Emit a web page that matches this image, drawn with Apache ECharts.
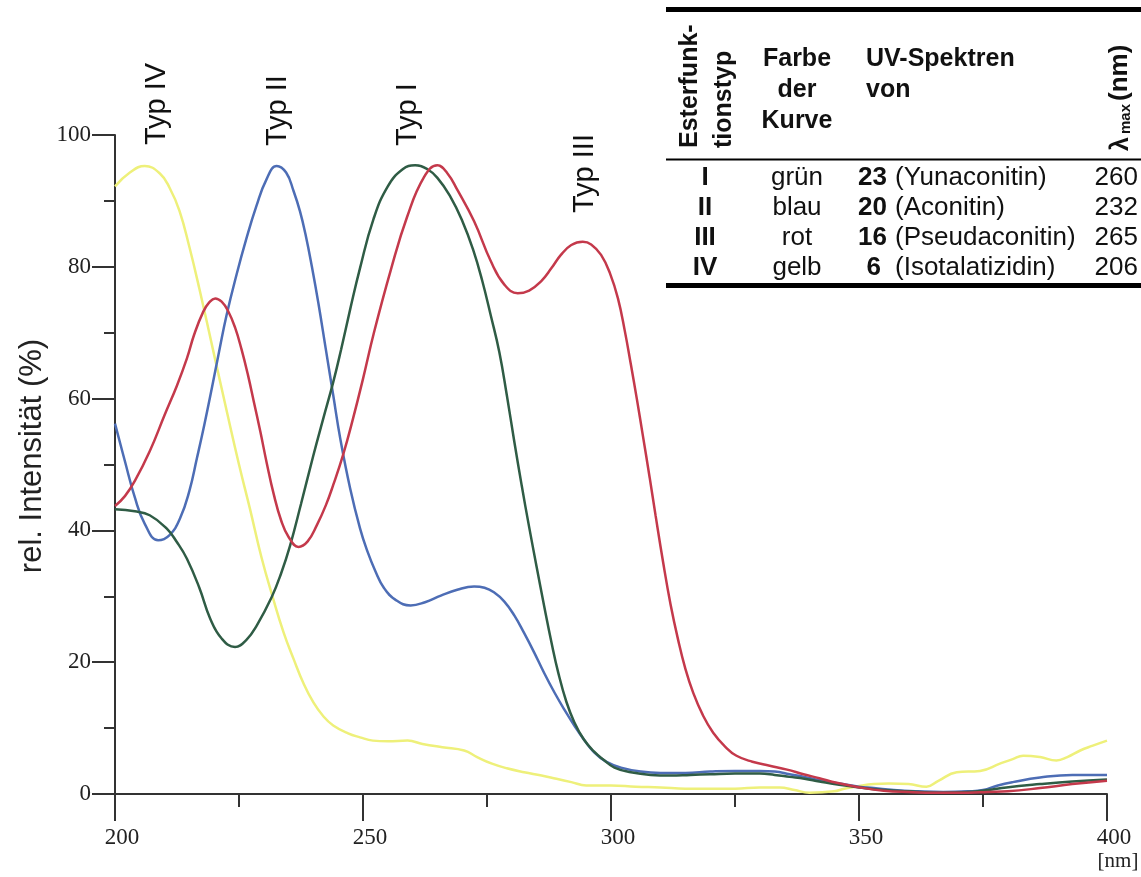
<!DOCTYPE html>
<html>
<head>
<meta charset="utf-8">
<title>UV-Spektren</title>
<script src="https://cdn.jsdelivr.net/npm/echarts@6/dist/echarts.min.js"></script>
<style>
  html, body { margin: 0; padding: 0; background: #fff; }
  #chart { width: 1141px; height: 877px; }
</style>
</head>
<body>
<div id="chart"></div>
<script>
// spectra: [wavelength nm, rel. intensity %]
var typI = [[200,43.2],[204,42.9],[207,42.3],[210.4,40.3],[212.5,38.2],[214.5,35.7],[217,31.3],[219.2,26.6],[221.5,23.6],[224.2,22.3],[226.5,23.4],[228.6,25.6],[231.6,29.9],[233.5,33.5],[235.3,37.7],[237.5,44],[240,51.4],[242,57],[244,62.5],[245.6,67.5],[247.4,73.5],[249.4,79.8],[252.1,87.2],[255,92.2],[258,94.8],[260.5,95.4],[263,94.8],[265,93.5],[267.5,90.8],[270,87],[272.2,82.6],[274,78],[275.8,72.5],[277.5,67],[279,60.5],[280.5,53.5],[282,46.8],[283.5,40.5],[285,34.5],[286.5,28.6],[288,23],[289.4,18.3],[291,14],[292.6,10.9],[294.5,8.3],[296.5,6.5],[298.5,5.2],[300.7,4.0],[304,3.3],[308,2.9],[312,2.8],[316,2.9],[320,3.0],[325,3.1],[330,3.1],[333,2.9],[336,2.6],[339,2.3],[342,1.9],[346,1.4],[350,1.0],[355,0.6],[360,0.4],[366,0.2],[372,0.3],[376,0.6],[379.7,1.0],[386.5,1.5],[393,1.9],[400,2.2]];
var typII = [[200,56.2],[202,50.5],[204,45],[206,41],[208.7,38.5],[211,39.3],[213.1,41.8],[215,46],[216.5,50.9],[218,56],[219.5,61.5],[221,67.2],[222.5,72.7],[224.5,78.8],[226.5,84.3],[228.5,89.2],[230.5,93.2],[232.6,95.3],[234.5,94.3],[236,91.5],[237.3,88.4],[238.5,84.6],[239.7,80],[241,74.5],[242.5,67.5],[244,60.5],[245.4,54],[247.4,46.4],[249.4,40.3],[250.8,37],[252.5,33.8],[254.2,31.3],[256.5,29.5],[259.6,28.6],[262.5,29.1],[265.7,30.1],[269,31],[272.4,31.5],[274.5,31.3],[276.4,30.6],[278.5,29.2],[280.5,27.1],[282.5,24.4],[284.5,21.5],[286.5,18.4],[288.6,15.4],[290.6,12.8],[292.6,10.4],[294.6,8.2],[296.6,6.3],[299,4.9],[302,4.0],[306,3.4],[310,3.2],[315,3.2],[320,3.4],[325,3.5],[330,3.5],[333,3.4],[336,3.0],[339,2.6],[342,2.1],[346,1.6],[350,1.1],[353,0.9],[357,0.6],[362,0.4],[367,0.3],[372,0.4],[375,0.6],[378,1.3],[381,1.8],[386.5,2.5],[393,2.9],[400,2.9]];
var typIII = [[200,43.7],[202,45.2],[204,47.5],[207,52],[210,57.5],[212.5,62],[214.5,66.1],[216,69.8],[217.8,73.2],[219,74.6],[220.2,75.2],[221.5,74.7],[222.8,73.3],[224.2,70.8],[225.5,67.5],[226.8,63.6],[228,59.5],[229.3,55],[230.6,50.2],[232,45.5],[233.5,41.5],[235,39],[237,37.5],[238.8,38.3],[240.7,40.8],[242.5,43.8],[244,46.9],[246,51.5],[248,57],[250,63],[252.2,70],[255.6,79.5],[258.9,87.6],[262.3,93.6],[265,95.4],[267,94.2],[269,91.7],[272.4,86.9],[275.8,80.8],[278.5,77.3],[281.2,76],[283.5,76.4],[285.9,77.8],[288,79.8],[289.9,81.8],[292,83.3],[294.3,83.8],[296,83.4],[298,81.8],[299.8,79],[301.4,75.2],[302.8,70.2],[304,65.2],[305.2,60],[306.4,54.5],[307.8,48],[309,42.2],[310.5,35.2],[312,28.8],[313.5,23.5],[315,19],[316.6,15.3],[318.5,12],[320.6,9.3],[323,7.2],[325.3,5.8],[328.5,4.9],[332,4.3],[335.5,3.7],[338.8,3.0],[342,2.4],[345.5,1.7],[350.2,1.0],[355,0.5],[360,0.3],[366,0.2],[372,0.2],[376,0.3],[380,0.4],[386.5,0.9],[393,1.5],[400,2.0]];
var typIV = [[200,92.2],[203,94.3],[206,95.3],[209,94.2],[211,92],[213,88.5],[215,83],[217,76.7],[220,66.6],[222.5,58.2],[225,50],[227.2,43.3],[229.5,36],[231.9,29.6],[234,24.5],[236,20.5],[238,16.8],[240,13.9],[242,11.8],[244,10.4],[247,9.2],[249.4,8.6],[252,8.1],[255,8.0],[259,8.1],[262,7.6],[266,7.1],[270.4,6.6],[273,5.6],[276,4.6],[279,3.9],[282.5,3.3],[286,2.8],[289,2.3],[292,1.8],[295,1.3],[300,1.3],[305,1.1],[310,1.0],[315,0.8],[320,0.8],[325,0.8],[330,1.0],[334,1.0],[337,0.6],[340,0.2],[345,0.4],[347,0.8],[350,1.2],[353,1.5],[356,1.6],[360,1.5],[363.6,1.1],[366,2.0],[369.7,3.3],[374.4,3.5],[378.4,4.6],[381,5.3],[383.1,5.8],[386.5,5.6],[389.8,5.1],[392,5.6],[394.6,6.6],[397,7.3],[400,8.1]];

// peak labels above the curves
var typNames = ['Typ IV', 'Typ II', 'Typ I', 'Typ III'];

// table
var tabTyp = ['I', 'II', 'III', 'IV'];
var tabFarbe = ['grün', 'blau', 'rot', 'gelb'];
var tabNr = ['23', '20', '16', '6'];
var tabName = ['(Yunaconitin)', '(Aconitin)', '(Pseudaconitin)', '(Isotalatizidin)'];
var tabLmax = ['260', '232', '265', '206'];

var sans = '"Liberation Sans", Arial, sans-serif';
var serif = '"Liberation Serif", "Times New Roman", serif';

function txt(s, x, y, opt) {
  opt = opt || {};
  return {
    type: 'text', x: x, y: y, rotation: opt.rot || 0, silent: true,
    style: {
      text: s, fill: opt.color || '#111',
      fontFamily: opt.family || sans, fontSize: opt.size || 26,
      fontWeight: opt.weight || 'normal',
      align: opt.align || 'left', textAlign: opt.align || 'left',
      verticalAlign: opt.valign || 'middle', textVerticalAlign: opt.valign || 'middle'
    }
  };
}
function hline(y, w) {
  return { type: 'line', silent: true, shape: { x1: 666, y1: y, x2: 1141, y2: y }, style: { stroke: '#000', lineWidth: w } };
}

var up = Math.PI / 2;
var graphics = [];
// y axis title
graphics.push(txt('rel. Intensität (%)', 32, 456, { size: 31, align: 'center', rot: up, color: '#222' }));
graphics.push(txt('[nm]', 1118, 861, { family: serif, size: 21, align: 'center', color: '#222' }));
// Typ labels
var typX = [157, 278, 408, 585], typY = [145, 146, 146, 213];
typNames.forEach(function (n, i) {
  graphics.push(txt(n, typX[i], typY[i], { size: 29, rot: up }));
});
// table lines
graphics.push(hline(9.5, 5), hline(159.5, 2), hline(285.5, 5));
// header
graphics.push(txt('Esterfunk-', 690, 148, { weight: 'bold', size: 25, rot: up }));
graphics.push(txt('tionstyp', 724, 148, { weight: 'bold', size: 25, rot: up }));
['Farbe', 'der', 'Kurve'].forEach(function (s, i) {
  graphics.push(txt(s, 797, 59 + i * 31, { weight: 'bold', size: 25, align: 'center' }));
});
['UV-Spektren', 'von'].forEach(function (s, i) {
  graphics.push(txt(s, 866, 59 + i * 31, { weight: 'bold', size: 25 }));
});
graphics.push(txt('λ', 1121, 151, { weight: 'bold', size: 25, rot: up }));
graphics.push(txt('max', 1126, 134, { weight: 'bold', size: 15, rot: up }));
graphics.push(txt('(nm)', 1120, 101, { weight: 'bold', size: 26, rot: up }));
// rows
tabTyp.forEach(function (t, i) {
  var y = 178 + i * 30;
  graphics.push(txt(t, 705, y, { weight: 'bold', size: 26, align: 'center' }));
  graphics.push(txt(tabFarbe[i], 797, y, { size: 26, align: 'center' }));
  graphics.push(txt(tabNr[i], tabNr[i].length > 1 ? 887 : 881, y, { weight: 'bold', size: 26, align: 'right' }));
  graphics.push(txt(tabName[i], 895, y, { size: 26 }));
  graphics.push(txt(tabLmax[i], 1138, y, { size: 26, align: 'right' }));
});

var axisColor = '#333';
var lineSmooth = 0.45;
var chart = echarts.init(document.getElementById('chart'));
chart.setOption({
  animation: false,
  backgroundColor: '#fff',
  grid: { left: 115, right: 34, top: 135, bottom: 83 },
  xAxis: {
    type: 'value', min: 200, max: 400, interval: 50,
    axisLine: { show: true, lineStyle: { color: axisColor, width: 2 } },
    axisTick: { show: true, length: 27, lineStyle: { color: axisColor, width: 2 } },
    minorTick: { show: true, splitNumber: 2, length: 13, lineStyle: { color: axisColor, width: 2 } },
    splitLine: { show: false },
    axisLabel: { fontFamily: serif, fontSize: 23, color: '#222', margin: 32, padding: [0, 0, 0, 14], showMinLabel: true, showMaxLabel: true }
  },
  yAxis: {
    type: 'value', min: 0, max: 100, interval: 20,
    axisLine: { show: true, lineStyle: { color: axisColor, width: 2 } },
    axisTick: { show: true, length: 23, lineStyle: { color: axisColor, width: 2 } },
    minorTick: { show: true, splitNumber: 2, length: 11, lineStyle: { color: axisColor, width: 2 } },
    splitLine: { show: false },
    axisLabel: { fontFamily: serif, fontSize: 23, color: '#222', margin: 24 }
  },
  series: [
    { name: 'Typ IV', type: 'line', data: typIV, smooth: lineSmooth, showSymbol: false, lineStyle: { width: 2.5, color: '#eef07a' }, itemStyle: { color: '#eef07a' } },
    { name: 'Typ II', type: 'line', data: typII, smooth: lineSmooth, showSymbol: false, lineStyle: { width: 2.5, color: '#4d6db5' }, itemStyle: { color: '#4d6db5' } },
    { name: 'Typ I', type: 'line', data: typI, smooth: lineSmooth, showSymbol: false, lineStyle: { width: 2.5, color: '#2f5c45' }, itemStyle: { color: '#2f5c45' } },
    { name: 'Typ III', type: 'line', data: typIII, smooth: lineSmooth, showSymbol: false, lineStyle: { width: 2.5, color: '#c4394b' }, itemStyle: { color: '#c4394b' } }
  ],
  graphic: graphics
});
</script>
</body>
</html>
